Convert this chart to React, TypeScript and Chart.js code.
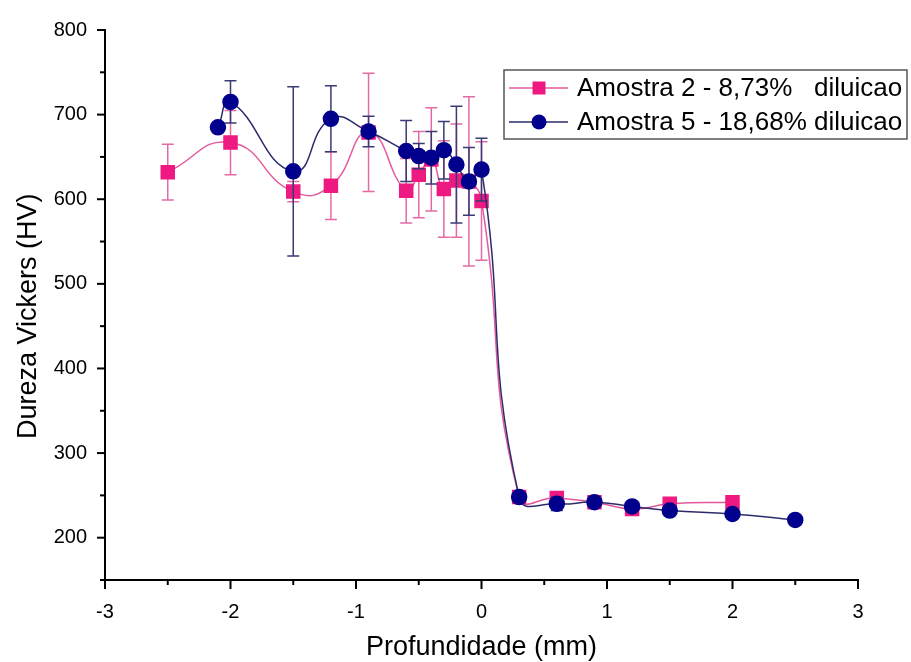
import React, { useEffect, useRef } from 'react';
import { Chart, registerables } from 'chart.js';

Chart.register(...registerables);

// Amostra 2 - 8,73% diluicao
const xA2 = [-2.5, -2.0, -1.5, -1.2, -0.9, -0.6, -0.5, -0.4, -0.3, -0.2, -0.1, 0.0, 0.3, 0.6, 0.9, 1.2, 1.5, 2.0];
const yA2 = [632, 667, 609, 616, 679, 610, 629, 647, 612, 622, 621, 598, 248, 247, 242, 234, 240, 242];
const eA2 = [33, 38, 12, 40, 70, 38, 51, 61, 57, 67, 100, 70, 5, 5, 4, 4, 4, 5];

// Amostra 5 - 18,68% diluicao
const xA5 = [-2.1, -2.0, -1.5, -1.2, -0.9, -0.6, -0.5, -0.4, -0.3, -0.2, -0.1, 0.0, 0.3, 0.6, 0.9, 1.2, 1.5, 2.0, 2.5];
const yA5 = [685, 715, 633, 695, 680, 657, 651, 649, 658, 641, 621, 635, 248, 240, 242, 237, 232, 228, 221];
const eA5 = [0, 25, 100, 39, 18, 36, 15, 31, 34, 69, 40, 37, 4, 8, 4, 3, 3, 3, 0];

const seriesNames = ['Amostra 2 - 8,73%   diluicao', 'Amostra 5 - 18,68% diluicao'];
const xTitle = 'Profundidade (mm)';
const yTitle = 'Dureza Vickers (HV)   ';

const FONT = "'Liberation Sans', Arial, Helvetica, sans-serif";
const TICK_FONT = "'Liberation Sans Narrow', 'Arial Narrow', 'Liberation Sans', Arial, sans-serif";

const PINK = { marker: '#EE1A82', line: '#E35A9C', err: '#E46AA6' };
const BLUE = { marker: '#00008C', line: '#2C2C6C', err: '#3A3A74' };

export default function App() {
  const ref = useRef<HTMLCanvasElement>(null);

  useEffect(() => {
    document.body.style.margin = '0';
    const canvas = ref.current;
    if (!canvas) return;

    const errorBars = {
      id: 'errorBars',
      beforeDatasetDraw(chart: any, args: any) {
        const ds = chart.data.datasets[args.index];
        const errs = ds.errors as number[];
        if (!errs) return;
        const xs = chart.scales.x;
        const ys = chart.scales.y;
        const ctx = chart.ctx;
        ctx.save();
        ctx.strokeStyle = ds.errorColor;
        ctx.lineWidth = 1.5;
        ds.data.forEach((p: any, i: number) => {
          const e = errs[i];
          if (!e) return;
          const x = xs.getPixelForValue(p.x);
          const yt = ys.getPixelForValue(p.y + e);
          const yb = ys.getPixelForValue(p.y - e);
          ctx.beginPath();
          ctx.moveTo(x, yt);
          ctx.lineTo(x, yb);
          ctx.moveTo(x - 6, yt);
          ctx.lineTo(x + 6, yt);
          ctx.moveTo(x - 6, yb);
          ctx.lineTo(x + 6, yb);
          ctx.stroke();
        });
        ctx.restore();
      },
    };

    const axisTicks = {
      id: 'axisTicks',
      afterDraw(chart: any) {
        const ctx = chart.ctx;
        const xs = chart.scales.x;
        const ys = chart.scales.y;
        const area = chart.chartArea;
        ctx.save();
        ctx.strokeStyle = '#000';
        ctx.lineWidth = 2;
        for (let v = -3; v <= 3.001; v += 0.5) {
          const px = xs.getPixelForValue(v);
          const major = Math.abs(v - Math.round(v)) < 1e-6;
          ctx.beginPath();
          ctx.moveTo(px, area.bottom);
          ctx.lineTo(px, area.bottom + (major ? 9 : 5));
          ctx.stroke();
        }
        for (let v = 150; v <= 800; v += 50) {
          const py = ys.getPixelForValue(v);
          const major = v % 100 === 0;
          ctx.beginPath();
          ctx.moveTo(area.left, py);
          ctx.lineTo(area.left - (major ? 8 : 5), py);
          ctx.stroke();
        }
        ctx.restore();
      },
    };

    const boxLegend = {
      id: 'boxLegend',
      afterDraw(chart: any) {
        const ctx = chart.ctx;
        const left = 504;
        const top = 70;
        const w = 403;
        const h = 69;
        ctx.save();
        ctx.fillStyle = '#fff';
        ctx.fillRect(left, top, w, h);
        ctx.strokeStyle = '#555';
        ctx.lineWidth = 1.5;
        ctx.strokeRect(left, top, w, h);
        const rows = [
          { y: 88, c: PINK, shape: 'rect' },
          { y: 122, c: BLUE, shape: 'circle' },
        ];
        rows.forEach((r, i) => {
          ctx.strokeStyle = r.c.line;
          ctx.lineWidth = 1.5;
          ctx.beginPath();
          ctx.moveTo(509, r.y);
          ctx.lineTo(568, r.y);
          ctx.stroke();
          ctx.fillStyle = r.c.marker;
          if (r.shape === 'rect') {
            ctx.fillRect(539 - 6.5, r.y - 6.5, 13, 13);
          } else {
            ctx.beginPath();
            ctx.arc(539, r.y, 7.5, 0, Math.PI * 2);
            ctx.fill();
          }
          ctx.fillStyle = '#000';
          ctx.font = `26px ${FONT}`;
          ctx.textBaseline = 'middle';
          ctx.textAlign = 'left';
          ctx.fillText(seriesNames[i], 577, r.y + 1);
        });
        ctx.restore();
      },
    };

    const chart = new Chart(canvas, {
      type: 'line',
      data: {
        datasets: [
          {
            label: seriesNames[1],
            data: xA5.map((x, i) => ({ x, y: yA5[i] })),
            errors: eA5,
            errorColor: BLUE.err,
            borderColor: BLUE.line,
            borderWidth: 1.5,
            backgroundColor: BLUE.marker,
            pointBackgroundColor: BLUE.marker,
            pointBorderColor: BLUE.marker,
            pointStyle: 'circle',
            pointRadius: 7.5,
            tension: 0.5,
            order: 0,
          } as any,
          {
            label: seriesNames[0],
            data: xA2.map((x, i) => ({ x, y: yA2[i] })),
            errors: eA2,
            errorColor: PINK.err,
            borderColor: PINK.line,
            borderWidth: 1.5,
            backgroundColor: PINK.marker,
            pointBackgroundColor: PINK.marker,
            pointBorderColor: PINK.marker,
            pointStyle: 'rect',
            pointRadius: 9.2,
            tension: 0.5,
            order: 1,
          } as any,
        ],
      },
      options: {
        animation: false,
        responsive: true,
        maintainAspectRatio: false,
        layout: { padding: { left: 0, right: 53, top: 24, bottom: 0 } },
        plugins: {
          legend: { display: false },
          tooltip: { enabled: false },
        },
        scales: {
          x: {
            type: 'linear',
            min: -3,
            max: 3,
            grid: { drawOnChartArea: false, drawTicks: false },
            border: { display: true, color: '#000', width: 2 },
            ticks: {
              stepSize: 0.5,
              autoSkip: false,
              maxRotation: 0,
              padding: 20,
              color: '#000',
              font: { family: TICK_FONT, size: 20 },
              callback: (v: any) => (Math.abs(v - Math.round(v)) < 1e-6 ? String(Math.round(v)) : ''),
            },
            title: {
              display: true,
              text: xTitle,
              color: '#000',
              font: { family: FONT, size: 27 },
              padding: { top: 0, bottom: -2 },
            },
            afterFit: (s: any) => {
              s.height = 82;
            },
          },
          y: {
            type: 'linear',
            min: 150,
            max: 800,
            grid: { drawOnChartArea: false, drawTicks: false },
            border: { display: true, color: '#000', width: 2 },
            ticks: {
              stepSize: 50,
              autoSkip: false,
              padding: 18,
              color: '#000',
              font: { family: TICK_FONT, size: 20 },
              callback: (v: any) => (v % 100 === 0 ? String(v) : ''),
            },
            title: {
              display: true,
              text: yTitle,
              color: '#000',
              font: { family: FONT, size: 27 },
              padding: { top: 12, bottom: 0 },
            },
            afterFit: (s: any) => {
              s.width = 105;
            },
          },
        },
      } as any,
      plugins: [errorBars, axisTicks, boxLegend],
    });

    return () => chart.destroy();
  }, []);

  return (
    <div style={{ width: 911, height: 662, position: 'relative' }}>
      <canvas ref={ref} />
    </div>
  );
}
